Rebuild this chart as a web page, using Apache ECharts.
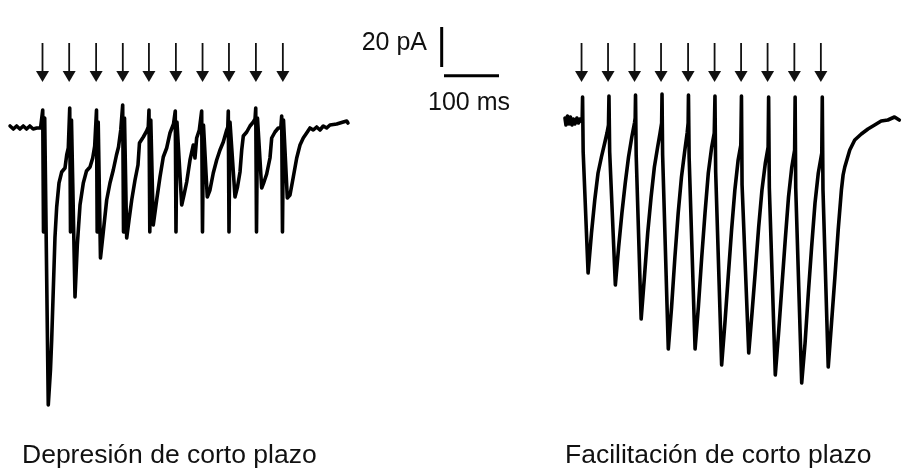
<!DOCTYPE html>
<html>
<head>
<meta charset="utf-8">
<script src="https://cdn.jsdelivr.net/npm/echarts@6/dist/echarts.min.js"></script>
<style>
html,body{margin:0;padding:0;background:#fff;}
#chart{width:902px;height:471px;}
</style>
</head>
<body>
<div id="chart"></div>
<script>
// ---------------- DATA (time in ms, current in pA) ----------------
const depressionLabel = 'Depresión de corto plazo';
const facilitationLabel = 'Facilitación de corto plazo';

// stimulus (arrow) times, ms
const depressionStim = [0, 48.5, 97.5, 146, 193.5, 242.5, 291, 339, 388, 437];
const facilitationStim = [-1.5, 47, 95.5, 144, 193.5, 242, 290.5, 339, 388, 436.5];

// recorded current, [time ms, current pA]
const depressionTrace = [
[-59,0.5],[-53,-1],[-47,0.5],[-41,-1],[-35,0.5],[-29,-1],[-23,0.5],[-17,-1],[-10.5,-0.5],[-3.5,-0.5],[0,0],
[0.4,8.5],[1.8,-52.5],[4,4.5],[10.5,-139],[14.5,-121.5],[16.7,-106.5],[19.6,-81.5],[22.7,-55],[25.8,-40],[30,-28],[34.9,-22.5],[40.9,-20.5],[44,-14],[46.9,-10.5],[48.7,-10],
[49.5,9.5],[50.9,-52.5],[52.7,3.5],[59.1,-85],[63.3,-59],[68.2,-39],[74.2,-28],[80,-22],[86.4,-20],[91.3,-15.5],[94.9,-9.5],[97.3,-9],
[98.2,8.5],[99.4,-52.5],[101.3,2.5],[105.4,-65.5],[110.5,-52.5],[116.7,-36.5],[122.7,-28],[128.7,-21.5],[134.5,-14],[138.2,-10],[142.3,-1.5],[145.1,-0.5],
[145.8,11],[147.3,-52.5],[149.1,4.5],[153.1,-55.5],[157.3,-46.5],[162.2,-36.5],[168.2,-26.5],[173.6,-19],[176.3,-8],[183.3,-5],[189.4,-2],[192.3,0],
[193.6,8.5],[195.1,-52.5],[196.9,3.5],[201.4,-49],[207.6,-36.5],[213.6,-25],[219.6,-15],[225.8,-10.5],[231.8,-3],[238.2,1.5],[240.8,1.5],
[241.4,8],[242.7,-52.5],[244.5,2.5],[253.1,-39],[257.2,-34],[262.2,-27.5],[268.2,-16.5],[274.2,-9],[277.2,-15.5],[280.3,-5.5],[285.1,-1.5],[288.2,-0.5],
[289.4,8],[290.9,-52.5],[292.7,1],[299.6,-35],[304.5,-31.5],[310.5,-23],[316.7,-16.5],[322.7,-11.5],[328.7,-7.5],[334.9,-1.5],[336.9,0],
[337.8,8],[339.1,-52.5],[340.9,2.5],[350,-35],[354.5,-30],[359.1,-22.5],[362.2,-11.5],[365.1,-4.5],[371.3,-2.5],[377.3,0.5],[383.3,2.5],[386.4,4],
[387.7,9.5],[389.1,-52.5],[390.9,4.5],[398.5,-30.5],[402.7,-27.5],[407.6,-23.5],[413.6,-15.5],[416.7,-5.5],[422.7,-2.5],[428.7,-0.5],[433.3,-0.5],
[434.9,5.5],[436.3,-52.5],[438.2,3.5],[445.1,-35.5],[450,-34],[456,-25],[462.2,-15.5],[468.2,-9],[474.1,-5.5],[480.3,-3],[486.3,-0.5],[492.3,-1.5],[498.5,0],[504.5,-1.5],[510.5,0.5],[516.7,-0.5],[522.7,1],[534.9,1.5],[546.9,2.5],[553.1,3],[555.4,2]
];

const facilitationTrace = [
[-31.8,2],[-30,-1.5],[-27.3,3],[-24.5,-1],[-21.8,2.5],[-19.1,-1.5],[-16.4,1.5],[-13.6,-1],[-10,2],[-7.3,-0.5],[-4.5,1.5],[-0.4,0],
[0.4,12.5],[1.5,-15],[10.5,-75.5],[16.7,-55.5],[22.7,-39],[28.7,-25.5],[34.9,-17.5],[40.9,-10.5],[45.1,-5.5],[47.8,-1.5],
[48.7,13],[50,-15],[60.4,-81.5],[66.4,-62.5],[72.4,-45.5],[78.5,-30.5],[84.5,-17.5],[90.5,-7.5],[95.4,-0.5],[96.7,2],
[97.3,13.5],[98.5,-16.5],[107.6,-98.5],[113.6,-77.5],[119.6,-55.5],[125.8,-37.5],[131.8,-22.5],[137.8,-12.5],[142.2,-5.5],[145.1,-0.5],
[145.8,14],[146.9,-16.5],[157.3,-113.5],[163.3,-92.5],[169.4,-67.5],[175.4,-45.5],[181.4,-27.5],[187.6,-14],[191.8,-5.5],[193.6,-0.5],
[194.2,13.5],[195.4,-17.5],[206.3,-113.5],[212.3,-92.5],[218.5,-67.5],[224.5,-45.5],[230.5,-25.5],[236.7,-12.5],[241.4,-5.5],
[242.7,13],[244,-25],[254.9,-121.5],[260.9,-100.5],[266.9,-77.5],[273.1,-54],[279.1,-34],[285.1,-19],[290,-11.5],
[291.2,13],[292.3,-31.5],[304.5,-115.5],[310.5,-95.5],[316.7,-74],[322.7,-52.5],[328.7,-34],[334.9,-20.5],[340,-12.5],
[340.9,12.5],[342.2,-33],[353.1,-126.5],[359.1,-105.5],[365.1,-82.5],[371.3,-59],[377.3,-37.5],[383.3,-22.5],[388.5,-14],
[389.4,12.5],[390.5,-33],[401.4,-130.5],[407.6,-110.5],[413.6,-85.5],[419.6,-62.5],[425.8,-40.5],[431.8,-25.5],[438.2,-15.5],
[439.1,12.5],[440.4,-34],[450,-122.5],[456,-100.5],[462.2,-77.5],[468.2,-54],[474.1,-34],[477.2,-26.5],[480.3,-22.5],[489.4,-14],[498.5,-9],[510.5,-6],[522.7,-3.5],[534.9,-1.5],[546.9,0.5],[559.1,1],[571.3,2.5],[580,1]
];

// scale bar
const scaleBarPA = 20;
const scaleBarMS = 100;
const scaleBarLabels = ['20 pA', '100 ms'];

// ---------------- LAYOUT ----------------
const PX_PER_MS = 0.55, PX_PER_PA = 2;
function panel(originX, originY, xMin, xMax, yMin, yMax) {
  return {
    grid: { left: originX + xMin * PX_PER_MS, top: originY - yMax * PX_PER_PA,
            width: (xMax - xMin) * PX_PER_MS, height: (yMax - yMin) * PX_PER_PA, containLabel: false },
    x: { type: 'value', min: xMin, max: xMax, show: false },
    y: { type: 'value', min: yMin, max: yMax, show: false }
  };
}
const pL = panel(42.5, 127, -60, 560, -150, 45);
const pR = panel(582.5, 122, -40, 585, -150, 45);
const pS = panel(444, 67, -10, 100, -5, 20);

const FONT = '"Liberation Sans", Arial, Helvetica, sans-serif';
const ARROW_TOP = 43, ARROW_BASE = 71, ARROW_TIP = 82;

function arrowSeries(stim, axisIdx) {
  return {
    type: 'custom', xAxisIndex: axisIdx, yAxisIndex: axisIdx, silent: true,
    data: stim.map(t => [t, 0]),
    renderItem: function (params, api) {
      const x = api.coord([api.value(0), 0])[0];
      return { type: 'group', children: [
        { type: 'line', shape: { x1: x, y1: ARROW_TOP, x2: x, y2: ARROW_BASE + 2 }, style: { stroke: '#111', lineWidth: 1.8 } },
        { type: 'polygon', shape: { points: [[x - 6.5, ARROW_BASE], [x + 6.5, ARROW_BASE], [x, ARROW_TIP]] }, style: { fill: '#111' } }
      ]};
    }
  };
}
function traceSeries(data, axisIdx) {
  return {
    type: 'line', xAxisIndex: axisIdx, yAxisIndex: axisIdx, data: data, symbol: 'none', silent: true,
    clip: false, lineStyle: { color: '#000', width: 3.6, join: 'round', cap: 'round' }
  };
}

const chart = echarts.init(document.getElementById('chart'), null, { renderer: 'canvas' });
chart.setOption({
  animation: false,
  backgroundColor: '#fff',
  grid: [pL.grid, pR.grid, pS.grid],
  xAxis: [Object.assign({ gridIndex: 0 }, pL.x), Object.assign({ gridIndex: 1 }, pR.x), Object.assign({ gridIndex: 2 }, pS.x)],
  yAxis: [Object.assign({ gridIndex: 0 }, pL.y), Object.assign({ gridIndex: 1 }, pR.y), Object.assign({ gridIndex: 2 }, pS.y)],
  series: [
    traceSeries(depressionTrace, 0),
    traceSeries(facilitationTrace, 1),
    arrowSeries(depressionStim, 0),
    arrowSeries(facilitationStim, 1),
    { type: 'line', xAxisIndex: 2, yAxisIndex: 2, symbol: 'none', silent: true, clip: false,
      data: [[-4.2, 0], [-4.2, scaleBarPA]], lineStyle: { color: '#000', width: 3 } },
    { type: 'line', xAxisIndex: 2, yAxisIndex: 2, symbol: 'none', silent: true, clip: false,
      data: [[0, -4.35], [scaleBarMS, -4.35]], lineStyle: { color: '#000', width: 3 } }
  ],
  graphic: [
    { type: 'text', x: 427, y: 43.5, silent: true, style: { text: scaleBarLabels[0], font: '25px ' + FONT, fill: '#111', align: 'right', verticalAlign: 'middle' } },
    { type: 'text', x: 428, y: 103.5, silent: true, style: { text: scaleBarLabels[1], font: '25px ' + FONT, fill: '#111', align: 'left', verticalAlign: 'middle' } },
    { type: 'text', x: 22, y: 456, silent: true, style: { text: depressionLabel, font: '26.5px ' + FONT, fill: '#111', align: 'left', verticalAlign: 'middle' } },
    { type: 'text', x: 565, y: 456, silent: true, style: { text: facilitationLabel, font: '26.5px ' + FONT, fill: '#111', align: 'left', verticalAlign: 'middle' } }
  ]
});
</script>
</body>
</html>
